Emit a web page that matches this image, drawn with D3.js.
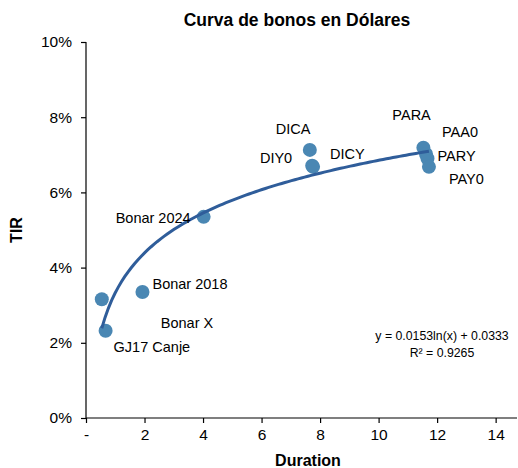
<!DOCTYPE html>
<html>
<head>
<meta charset="utf-8">
<script src="https://cdn.jsdelivr.net/npm/d3@7"></script>
<style>
  body { margin: 0; background: #fff; }
  text { font-family: "Liberation Sans", Arial, sans-serif; fill: #000; }
</style>
</head>
<body>
<div id="chart-area"></div>
<script>
// bonds, duration (years) and yield (TIR, %)
var bonds = ['GJ17 Canje', 'Bonar X', 'Bonar 2018', 'Bonar 2024', 'DICA', 'DIY0', 'DICY', 'PARA', 'PAA0', 'PARY', 'PAY0'];
var durations = [0.67, 0.54, 1.93, 4.02, 7.65, 7.73, 7.76, 11.53, 11.62, 11.67, 11.72];
var yields = [2.32, 3.16, 3.35, 5.35, 7.13, 6.71, 6.68, 7.19, 7.02, 6.90, 6.68];

var xTicks = [0, 2, 4, 6, 8, 10, 12, 14];
var yTicks = [0, 2, 4, 6, 8, 10];

// log trend line: y = a ln(x) + b
var trendA = 0.0153, trendB = 0.0333;

// label placement relative to each dot (layout only)
var labelDx = [8, 59, 10, -13, -34, -20, 17, -31, 16, 10, 20];
var labelDy = [16, 24, -8, 1, -21, -8, -13, -33, -22, -3, 12];
var labelAnchor = ['start', 'start', 'start', 'end', 'start', 'end', 'start', 'start', 'start', 'start', 'start'];

var data = bonds.map(function(b, i) {
  return { name: b, x: durations[i], y: yields[i] };
});

var svg = d3.select('#chart-area').append('svg')
  .attr('width', 518)
  .attr('height', 468);

var x = d3.scaleLinear().domain([0, 14.73]).range([86, 517]);
var y = d3.scaleLinear().domain([0, 10]).range([418, 42]);

// title
svg.append('text')
  .attr('x', 297).attr('y', 26)
  .attr('text-anchor', 'middle')
  .style('font-size', '17.5px').style('font-weight', 'bold')
  .text('Curva de bonos en Dólares');

// axes
var xAxis = d3.axisBottom(x).tickValues(xTicks).tickSize(5).tickPadding(6)
  .tickFormat(function(d) { return d === 0 ? '-' : d; });
var gx = svg.append('g').attr('transform', 'translate(0,418)').call(xAxis);
gx.select('.domain').attr('d', 'M86,0H517');

var yAxis = d3.axisLeft(y).tickValues(yTicks).tickSize(5).tickPadding(9)
  .tickFormat(function(d) { return d + '%'; });
var gy = svg.append('g').attr('transform', 'translate(86,0)').call(yAxis);
gy.select('.domain').attr('d', 'M0,42V418');

svg.selectAll('.tick text').style('font-size', '15.5px').style('font-family', '"Liberation Sans", Arial, sans-serif');
svg.selectAll('.domain, .tick line').attr('stroke', '#000').attr('stroke-width', 1.2);

// axis titles
svg.append('text')
  .attr('x', 308).attr('y', 466)
  .attr('text-anchor', 'middle')
  .style('font-size', '16px').style('font-weight', 'bold')
  .text('Duration');

svg.append('text')
  .attr('transform', 'translate(22,230) rotate(-90)')
  .attr('text-anchor', 'middle')
  .style('font-size', '16px').style('font-weight', 'bold')
  .text('TIR');

// points
svg.selectAll('circle')
  .data(data)
  .enter()
  .append('circle')
    .attr('cx', function(d) { return x(d.x); })
    .attr('cy', function(d) { return y(d.y); })
    .attr('r', 7)
    .attr('fill', '#4a87b3');

// trend line over data range
var xMin = d3.min(durations), xMax = d3.max(durations);
var trend = d3.range(0, 101).map(function(i) {
  var t = xMin + (xMax - xMin) * i / 100;
  return [t, (trendA * Math.log(t) + trendB) * 100];
});
svg.append('path')
  .datum(trend)
  .attr('fill', 'none')
  .attr('stroke', '#2f5d9a')
  .attr('stroke-width', 3)
  .attr('d', d3.line()
    .x(function(d) { return x(d[0]); })
    .y(function(d) { return y(d[1]); }));

// point labels
svg.selectAll('.lbl')
  .data(data)
  .enter()
  .append('text')
    .attr('class', 'lbl')
    .attr('x', function(d, i) { return x(d.x) + labelDx[i]; })
    .attr('y', function(d, i) { return y(d.y) + labelDy[i]; })
    .attr('dy', '0.35em')
    .attr('text-anchor', function(d, i) { return labelAnchor[i]; })
    .style('font-size', '14.5px')
    .text(function(d) { return d.name; });

// equation
svg.append('text')
  .attr('x', 442).attr('y', 340)
  .attr('text-anchor', 'middle')
  .style('font-size', '12.3px')
  .text('y = 0.0153ln(x) + 0.0333');
svg.append('text')
  .attr('x', 442).attr('y', 357)
  .attr('text-anchor', 'middle')
  .style('font-size', '12.3px')
  .text('R² = 0.9265');
</script>
</body>
</html>
